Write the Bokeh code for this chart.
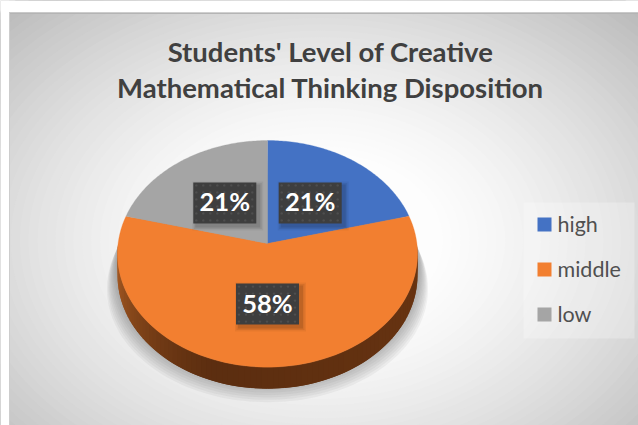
import numpy as np
from bokeh.plotting import figure
from bokeh.models import Range1d
from bokeh.core.properties import value
from bokeh.embed import file_html
from bokeh.resources import INLINE

title_lines = ["Students' Level of Creative", "Mathematical Thinking Disposition"]
categories = ["high", "middle", "low"]
percents = [21, 58, 21]
colors = ["#4472c4", "#f27f30", "#a5a5a5"]

W, H = 638, 425
CX, CY = 267, 243       # pie apex (px)
K, A, B = 0.0913, 112.4, 149.4  # perspective of the pie plane
DEPTH = 21.5


def proj(th):
    u, v = np.sin(th), np.cos(th)
    d = 1 + K * v
    return CX + B * u / d, CY - A * v / d


p = figure(width=W, height=H, output_backend="svg", toolbar_location=None,
           x_range=Range1d(0, W), y_range=Range1d(H, 0),
           min_border=0, outline_line_color=None)
p.axis.visible = False
p.grid.visible = False
p.background_fill_color = "#bbbbbb"
p.border_fill_color = "white"

# radial gradient backdrop: concentric ellipses, outer to inner
th = np.linspace(0, 2 * np.pi, 121)
for R in np.linspace(1.0, 0.27, 38):
    G = 253 - 66 * ((R - 0.27) / 0.73) ** 1.35
    col = "#%02x%02x%02x" % (int(G), int(G), int(G))
    rr = R * 1.414
    p.patch(320 + 320 * rr * np.cos(th), 240 + 230 * rr * np.sin(th), fill_color=col, line_color=None)
# page margin left of / above the chart area
p.quad(left=[0, 0], right=[8.5, W], top=[0, 0], bottom=[H, 12], fill_color="white", line_color=None)
p.line([8.5, W], [12.8, 12.8], line_color="#b4b4b4", line_width=1.5)
p.line([9, 9], [12, H], line_color="#cdcdcd", line_width=1)

# soft shadow under pie
th = np.linspace(0, 2 * np.pi, 181)
px, py = proj(th)
for i in range(11):
    s = 1.07 - 0.007 * i
    p.patch(CX + (px - CX) * s, py + 35 - 2.4 * i, fill_color="#666666",
            fill_alpha=0.07, line_color=None)

# side wall with gradient
t = np.radians(np.linspace(90, 270, 91))
sx, sy = proj(t)
c1 = np.array([0x6a, 0x35, 0x12]); c2 = np.array([0x5c, 0x2e, 0x10]); c3 = np.array([0xb0, 0x60, 0x26])
for i in range(len(t) - 1):
    f = i / (len(t) - 2)
    if f < 0.6:
        c = c1 + (c2 - c1) * f / 0.6
    else:
        c = c2 + (c3 - c2) * ((f - 0.6) / 0.4) ** 1.3
    col = "#%02x%02x%02x" % tuple(int(v) for v in c)
    j = min(i + 2, len(t) - 1)
    p.patch([sx[i], sx[j], sx[j], sx[i]],
            [sy[i], sy[j], sy[j] + DEPTH, sy[i] + DEPTH],
            fill_color=col, line_color=None)

# slices
total = sum(percents)
start = 0.0
label_pos = []
for pct, col in zip(percents, colors):
    a0, a1 = start, start + 2 * np.pi * pct / total
    arc = np.linspace(a0, a1, 90)
    ax, ay = proj(arc)
    p.patch(np.r_[CX, ax], np.r_[CY, ay], fill_color=col, line_color=col, line_width=0.3)
    mid = (a0 + a1) / 2
    mx, my = proj(np.array([mid]))
    label_pos.append((CX + (mx[0] - CX) * 0.5, CY + (my[0] - CY) * 0.49))
    start = a1

# data labels
for pct, (lx, ly) in zip(percents, label_pos):
    bw, bh = 63, 41
    for i, al in enumerate([0.05, 0.07, 0.1]):
        g = 4 - i * 1.5
        p.quad(left=lx - bw / 2 + 3 - g, right=lx + bw / 2 + 3 + g, top=ly - bh / 2 + 3 - g,
               bottom=ly + bh / 2 + 3 + g, fill_color="black", fill_alpha=al, line_color=None)
    p.quad(left=lx - bw / 2, right=lx + bw / 2, top=ly - bh / 2, bottom=ly + bh / 2,
           fill_color="#3e3e3e", line_color=None)
    dx = np.arange(lx - bw / 2 + 3, lx + bw / 2, 7.0)
    dy = np.arange(ly - bh / 2 + 3, ly + bh / 2, 7.0)
    DX, DY = np.meshgrid(dx, dy)
    p.scatter(DX.ravel(), DY.ravel(), size=2.4, fill_color="#4e4e4e", line_color=None)
    p.text([lx], [ly - 1.5], text=[f"{pct}%"], text_font=value("Lato"), text_font_style="bold",
           text_font_size="25.5px", text_color="white", text_align="center", text_baseline="middle")

# title
for line, y in zip(title_lines, [51, 87]):
    p.text([330], [y], text=[line], text_font=value("Lato"), text_font_style="bold",
           text_font_size="27.5px", text_color="#404040", text_align="center", text_baseline="middle")

# legend
p.quad(left=523, right=634, top=202, bottom=338, fill_color="white", fill_alpha=0.25, line_color=None)
for cat, col, y in zip(categories, colors, [224, 269, 314]):
    p.quad(left=537, right=551, top=y - 7, bottom=y + 7, fill_color=col, line_color=None)
    p.text([557], [y - 1], text=[cat], text_font=value("Lato"), text_font_size="21.5px",
           text_color="#505050", text_align="left", text_baseline="middle")

open("out.html", "w").write(file_html(p, INLINE))
